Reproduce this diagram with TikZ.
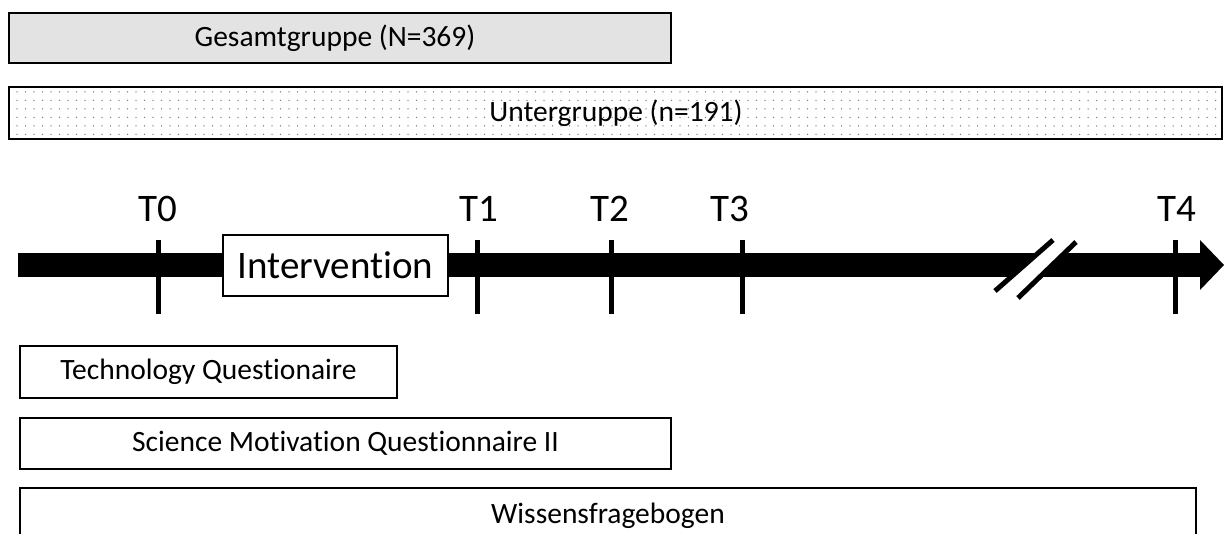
\documentclass[tikz,border=0pt]{standalone}
\usepackage{fontspec}
\setmainfont{Carlito}[Ligatures=NoCommon]
\usetikzlibrary{patterns.meta}
\tikzset{
  x=1pt, y=-1pt,
  boxtext/.style={font=\fontsize{29.5}{32}\selectfont},
  groupbox/.style={draw=black, line width=1.8pt, inner sep=0pt, boxtext},
  measurebox/.style={draw=black, line width=1.4pt, fill=white, inner sep=0pt, boxtext},
  tlabel/.style={font=\fontsize{39}{42}\selectfont, anchor=base},
  tick/.style={line width=5pt},
  slash/.style={line width=5pt, line cap=butt},
}
\begin{document}
\begin{tikzpicture}
\useasboundingbox (0,0) rectangle (1224,534);
\clip (0,0) rectangle (1224,534);

% study groups
\node[groupbox, fill=black!11, minimum width=662pt, minimum height=50pt] (gesamt) at (340,38) {};
\node[boxtext] (gesamtlbl) at (335,38) {Gesamtgruppe (N=369)};
\path[pattern={Dots[distance=8.5pt, radius=0.75pt]}, pattern color=black!50]
  (9,87) rectangle (1222,139);
\node[groupbox, minimum width=1213pt, minimum height=52pt] (unter) at (615.5,113) {};
\node[boxtext] (unterlbl) at (616,113) {Untergruppe (n=191)};

% time axis
\fill (18,253) rectangle (1201,277);
\fill (1200,240) -- (1224,265) -- (1200,290) -- cycle;

% break mark
\fill[white] (995,290) -- (1053,241) -- (1075,243) -- (1018,297) -- cycle;
\draw[slash] (995,291) -- (1053,240);
\draw[slash] (1018,298) -- (1076,242);

% measurement points
\foreach \name/\x/\lx in {0/158/158, 1/477/479, 2/611/610, 3/742/730, 4/1175/1177}{
  \coordinate (top\name) at (\x,240);
  \coordinate (bot\name) at (\x,314);
  \draw[tick] (top\name) -- (bot\name);
  \node[tlabel] (t\name) at (\lx,222) {T\name};
}

% intervention phase
\node[measurebox, font=\fontsize{39}{42}\selectfont, minimum width=225pt, minimum height=61pt] (interv) at (335.5,265.5) {Intervention};

% instruments
\node[measurebox, minimum width=377pt, minimum height=52pt] (tech) at (208.5,372) {Technology Questionaire};
\node[measurebox, minimum width=651pt, minimum height=51pt] (smq) at (345.5,443.5) {Science Motivation Questionnaire II};
\node[measurebox, minimum width=1176pt, minimum height=56pt] (wiss) at (608,516) {Wissensfragebogen};
\end{tikzpicture}
\end{document}
